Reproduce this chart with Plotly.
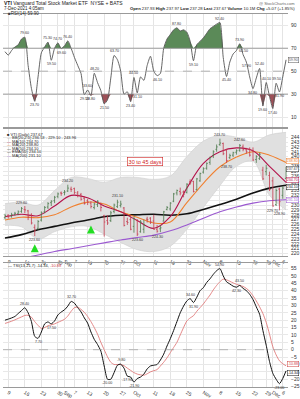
import plotly.graph_objects as go

# ---------------- data ----------------
idx = list(range(86))  # trading days 6-Aug-2021 .. 7-Dec-2021
tick_idx = [1, 6, 11, 16, 18, 21, 25, 30, 35, 39, 45, 50, 55, 60, 65, 70, 75, 79, 81, 84]
tick_txt = ["9", "16", "23", "30", "Sep", "7", "13", "20", "27", "Oct", "11", "18", "25", "Nov",
            "8", "15", "22", "29", "Dec", "6"]

rsi = [67, 64, 68, 71, 73, 78, 79.6, 55, 35, 23.7,
       45, 66, 71, 75.3, 59.5, 70, 74.7, 69.6, 72, 76.4,
       70, 62, 55, 48, 29.5, 33.6, 28.8, 48.2, 40, 33,
       21.5, 25, 44, 63.7, 60, 50, 30, 32, 23.4, 44.5,
       31.1, 45, 42, 55, 63, 50, 46.1, 48, 70, 78,
       82, 86, 87.8, 85, 86, 84, 76, 59.1, 73, 76,
       79, 83, 87, 89, 91, 92.4, 62, 45.4, 58, 65,
       68, 73.9, 64.5, 57.9, 45, 34.8, 44, 52.4, 19.6, 40.1,
       28, 17.4, 39.5, 31.9, 45, 59.9]

opn = [227.4, 227.9, 227.7, 228.1, 228.2, 228.7, 229.1, 228.8, 227.9, 225.4,
       225.2, 226.9, 228.6, 229.6, 230.5, 230.9, 231.8, 232.5, 232.6, 232.9,
       233.3, 233.4, 232.5, 232.2, 231.4, 230.9, 230.4, 229.5, 230.1, 230.3,
       227.8, 226.8, 226.8, 228.7, 229.7, 229.9, 229.4, 226.6, 227.0, 225.6,
       226.8, 224.5, 225.0, 227.1, 227.3, 226.7, 225.0, 225.1, 226.7, 229.1,
       229.2, 230.8, 232.5, 232.8, 232.7, 232.6, 234.8, 234.9, 233.2, 235.0,
       236.8, 237.6, 238.8, 240.2, 241.5, 242.5, 242.7, 241.4, 239.8, 240.3,
       240.9, 241.3, 242.0, 241.4, 241.5, 241.2, 239.4, 239.6, 237.2, 236.9,
       236.1, 235.0, 230.1, 233.3, 232.0, 235.5]
high = [228.2, 228.1, 228.4, 228.6, 228.9, 229.6, 229.8, 229.0, 228.3, 226.0,
        226.9, 228.7, 229.8, 230.6, 231.0, 231.9, 232.6, 232.8, 233.1, 234.2,
        233.8, 233.6, 232.9, 232.5, 231.8, 231.3, 230.8, 230.5, 231.0, 230.5,
        228.0, 227.9, 228.8, 230.3, 231.1, 230.9, 229.6, 227.4, 227.9, 227.6,
        227.1, 226.9, 227.0, 227.6, 227.5, 228.0, 225.9, 225.8, 228.8, 229.8,
        230.6, 232.5, 233.2, 233.6, 233.0, 234.5, 235.3, 235.0, 235.6, 236.7,
        237.8, 238.8, 240.0, 241.3, 242.5, 243.7, 242.9, 241.6, 240.6, 241.0,
        241.5, 242.6, 242.5, 241.8, 241.9, 241.9, 240.3, 240.8, 237.9, 238.3,
        236.9, 235.8, 233.4, 233.6, 233.9, 237.9]
low = [227.1, 227.2, 227.4, 227.8, 227.9, 228.4, 228.3, 226.9, 226.0, 223.6,
       224.9, 226.6, 228.3, 229.2, 229.8, 230.4, 231.4, 231.9, 232.0, 232.7,
       232.7, 232.2, 231.6, 230.9, 230.1, 230.0, 229.3, 229.1, 229.6, 228.7,
       223.5, 225.9, 226.5, 228.3, 229.4, 229.5, 225.6, 225.9, 224.8, 224.3,
       223.6, 224.3, 224.2, 226.4, 226.1, 224.9, 224.3, 224.4, 226.6, 228.9,
       228.8, 230.6, 232.0, 232.0, 231.6, 232.4, 234.2, 232.6, 233.0, 234.8,
       236.5, 237.3, 238.3, 239.7, 241.0, 242.2, 240.3, 238.7, 239.5, 239.9,
       240.4, 241.0, 241.1, 240.6, 240.0, 239.1, 238.7, 239.3, 235.2, 236.1,
       232.9, 229.7, 229.8, 228.9, 231.3, 235.3]
close = [227.8, 227.6, 228.0, 228.3, 228.6, 229.3, 229.0, 227.5, 226.3, 224.8,
         226.6, 228.4, 229.5, 230.3, 230.8, 231.6, 232.3, 232.4, 232.7, 233.5,
         233.2, 232.6, 232.0, 231.2, 230.3, 230.6, 229.7, 230.2, 230.8, 229.5,
         226.5, 226.3, 228.4, 230.0, 230.6, 230.2, 225.8, 226.4, 225.0, 227.2,
         224.0, 226.5, 225.9, 227.0, 226.5, 225.0, 224.6, 225.3, 228.6, 229.5,
         230.4, 232.3, 233.0, 232.5, 232.2, 234.3, 234.6, 232.8, 235.4, 236.5,
         237.5, 238.6, 239.8, 241.0, 242.0, 242.8, 240.6, 239.2, 240.2, 240.8,
         241.2, 242.3, 241.5, 241.0, 240.3, 239.3, 240.0, 240.5, 235.4, 237.6,
         233.2, 229.8, 233.0, 230.7, 233.5, 237.67]

ma_idx = [0, 5, 10, 15, 20, 25, 30, 35, 40, 45, 50, 55, 60, 65, 70, 75, 80, 85]
ma10 = [227.6, 228.1, 227.8, 229.8, 232.0, 231.5, 229.8, 228.6, 226.8, 225.2,
        227.6, 233.5, 238.6, 241.0, 241.8, 241.2, 238.0, 234.7]
ma20 = [226.9, 227.5, 227.4, 228.0, 229.6, 230.6, 230.2, 228.6, 227.5, 226.3,
        226.5, 230.5, 234.5, 237.9, 239.9, 241.0, 240.3, 238.8]
ma50 = [223.2, 223.9, 224.9, 225.6, 226.3, 226.9, 227.6, 227.9, 228.0, 228.1,
        227.9, 228.2, 229.1, 230.1, 231.2, 232.5, 233.5, 234.1]
ma200 = [218.3, 219.0, 219.7, 220.4, 221.0, 221.6, 222.2, 222.8, 223.3, 223.8,
         224.7, 225.9, 227.3, 228.6, 229.6, 230.4, 230.9, 231.1]
bb_up = [230.3, 230.6, 230.0, 233.0, 235.7, 235.5, 234.7, 235.7, 235.7, 235.3,
         236.0, 240.0, 243.2, 244.4, 244.0, 243.0, 244.5, 245.0]
bb_lo = [225.8, 225.5, 223.0, 224.5, 225.5, 225.6, 224.0, 222.3, 220.8, 220.4,
         221.5, 225.0, 229.5, 234.0, 238.0, 239.0, 232.0, 229.0]

arrow_idx = [9, 26]
arrow_px = [221.9, 225.8]

tsi = [20, 20.7, 21.5, 22.5, 24.5, 26.5, 28.4, 25, 19, 9,
       7.7, 12, 17.5, 18.8, 17.5, 19.5, 23.5, 25.5, 27, 29.5,
       32.7, 31.5, 28.5, 25.6, 21.5, 18, 12, 7, 3.5, -1,
       -11, -20, -20, -15.5, -10.5, -9.8, -12.5, -17.9, -18.5, -21.9,
       -19.5, -18.5, -16.5, -13, -11, -10.5, -10, -7, -3, 2.5,
       7.5, 13, 19, 25, 29.5, 33, 34.6, 31.9, 35.5, 40,
       42, 45.5, 48, 51, 53.5, 54.9, 50, 46, 44.5, 43,
       42.3, 43.5, 41.5, 40, 37.5, 34, 29, 24, 13, 3,
       -8, -16, -20, -23, -19.5, -14.34]
tsi_sig = [17.8, 18.5, 19.3, 20.2, 21.2, 22.2, 23.2, 23.3, 22, 19,
           16.5, 14.4, 15, 16.2, 16.8, 17.5, 18.5, 19.5, 20.6, 22.8,
           26, 28.5, 28.8, 27.3, 25.3, 22.5, 19, 15, 10.5, 5,
           0, -4.8, -8.5, -10, -10, -10, -10.8, -12.5, -14, -15.5,
           -16.5, -17, -17.3, -16.3, -15, -14.2, -13.5, -11, -8.5, -5.5,
           -2, 1.5, 5, 10, 15, 19.5, 21.5, 23, 26, 28.5,
           31, 34, 37, 40.5, 43.5, 46, 47.8, 47.3, 46.3, 45.2,
           44.3, 43.5, 42.8, 41.5, 39.5, 36.5, 33, 29, 24.5, 18.5,
           10.5, 2, -3.5, -7.5, -9.5, -10.88]

rsi_peaks = [6, 13, 16, 19, 25, 27, 33, 39, 52, 65, 71, 72, 77, 79, 82]
rsi_troughs = [9, 14, 17, 24, 26, 30, 38, 40, 46, 57, 67, 73, 75, 78, 81, 83]
tsi_peaks = [6, 20, 35, 56, 65, 71]
tsi_troughs = [10, 14, 31, 37, 39, 57, 70, 83]
px_peaks = [5, 19, 34, 65, 71]
px_troughs = [9, 40, 46, 67, 81, 83]

# ---------------- figure ----------------
FONT = "Liberation Sans"
W, H = 300, 399


def py(y):
    return 1 - y / H


X0, X1 = 3 / W, 289 / W
XR = [-0.6, 85.6]
D_RSI = [py(129), py(14)]
D_PX = [py(260), py(131)]
D_TSI = [py(393), py(267)]

fig = go.Figure()
nolink = dict(hoverinfo="skip", showlegend=False)

# RSI fills
fig.add_trace(go.Scatter(x=idx, y=[70] * len(idx), mode="lines", line=dict(width=0),
                         xaxis="x", yaxis="y", **nolink))
fig.add_trace(go.Scatter(x=idx, y=[max(v, 70) for v in rsi], mode="lines", line=dict(width=0),
                         fill="tonexty", fillcolor="#5b8a58", xaxis="x", yaxis="y", **nolink))
fig.add_trace(go.Scatter(x=idx, y=[30] * len(idx), mode="lines", line=dict(width=0),
                         xaxis="x", yaxis="y", **nolink))
fig.add_trace(go.Scatter(x=idx, y=[min(v, 30) for v in rsi], mode="lines", line=dict(width=0),
                         fill="tonexty", fillcolor="#9e5058", xaxis="x", yaxis="y", **nolink))
fig.add_trace(go.Scatter(x=idx, y=rsi, mode="lines", line=dict(color="#555555", width=0.9, shape="spline", smoothing=0.6),
                         xaxis="x", yaxis="y", **nolink))

# Bollinger band fill
fig.add_trace(go.Scatter(x=ma_idx, y=bb_up, mode="lines", line=dict(width=0.6, color="#cfcfcf", shape="spline"),
                         xaxis="x2", yaxis="y2", **nolink))
fig.add_trace(go.Scatter(x=ma_idx, y=bb_lo, mode="lines", line=dict(width=0.6, color="#cfcfcf", shape="spline"),
                         fill="tonexty", fillcolor="#e0e0e0", xaxis="x2", yaxis="y2", **nolink))
# moving averages
for arr, col, w in [(ma200, "#9b59d0", 1.1), (ma50, "#111111", 1.6), (ma20, "#f08030", 1.1), (ma10, "#b3124a", 1.1)]:
    fig.add_trace(go.Scatter(x=ma_idx, y=arr, mode="lines", line=dict(color=col, width=w, shape="spline"),
                             xaxis="x2", yaxis="y2", **nolink))

# price bars (high-low bar, open tick left, close tick right) built from the OHLC lists
for up, col in [(True, "#4d7a4d"), (False, "#c43a4e")]:
    bx, by = [], []
    for i in idx:
        if (close[i] >= opn[i]) != up:
            continue
        bx += [i, i, None, i - 0.35, i, None, i, i + 0.35, None]
        by += [low[i], high[i], None, opn[i], opn[i], None, close[i], close[i], None]
    fig.add_trace(go.Scatter(x=bx, y=by, mode="lines", line=dict(color=col, width=0.8),
                             xaxis="x2", yaxis="y2", **nolink))

fig.add_trace(go.Scatter(x=arrow_idx, y=arrow_px, mode="markers",
                         marker=dict(symbol="arrow-up", size=8, color="#22dd22", line=dict(width=0)),
                         xaxis="x2", yaxis="y2", **nolink))

# TSI
fig.add_trace(go.Scatter(x=idx, y=tsi_sig, mode="lines", line=dict(color="#e07a7a", width=0.9, shape="spline", smoothing=0.6),
                         xaxis="x3", yaxis="y3", **nolink))
fig.add_trace(go.Scatter(x=idx, y=tsi, mode="lines", line=dict(color="#111111", width=1.0, shape="spline", smoothing=0.6),
                         xaxis="x3", yaxis="y3", **nolink))

tickfont = dict(family=FONT, size=5, color="#333333")
xcommon = dict(type="linear", range=XR, domain=[X0, X1], tickvals=tick_idx, ticktext=tick_txt, showgrid=True,
               gridcolor="#e4e4e4", gridwidth=0.6, zeroline=False, showline=True, mirror=True,
               linecolor="#9a9a9a", linewidth=0.6, ticks="", tickfont=tickfont, ticklen=0)
ycommon = dict(type="linear", side="right", showgrid=True, gridcolor="#e8e8e8", gridwidth=0.6, zeroline=False,
               showline=False, ticks="", tickfont=tickfont, ticklabelstandoff=2)

fig.update_layout(
    width=W, height=H, margin=dict(l=0, r=0, t=0, b=0),
    paper_bgcolor="white", plot_bgcolor="white",
    font=dict(family=FONT, size=5, color="#333333"),
    showlegend=False,
    xaxis=dict(anchor="y", showticklabels=False, **xcommon),
    xaxis2=dict(anchor="y2", showticklabels=True, **xcommon),
    xaxis3=dict(anchor="y3", showticklabels=True, **xcommon),
    yaxis=dict(domain=D_RSI, range=[1.3, 100], tickvals=[10, 30, 50, 70, 90], anchor="x", **ycommon),
    yaxis2=dict(domain=D_PX, range=[219.47, 245.69], tickvals=list(range(220, 245)), anchor="x2", **ycommon),
    yaxis3=dict(domain=D_TSI, range=[-25.3, 58.7], tickvals=list(range(-25, 60, 5)), anchor="x3", **ycommon),
)

shapes = []
for lvl in (30, 70):
    shapes.append(dict(type="line", xref="x", yref="y", x0=XR[0], x1=XR[1], y0=lvl, y1=lvl,
                       line=dict(color="#8a8a8a", width=0.8)))
shapes.append(dict(type="line", xref="x", yref="y", x0=XR[0], x1=XR[1], y0=50, y1=50,
                   line=dict(color="#999999", width=0.7, dash="dash")))
shapes.append(dict(type="line", xref="x3", yref="y3", x0=XR[0], x1=XR[1], y0=0, y1=0,
                   line=dict(color="#999999", width=0.7, dash="dash")))
fig.update_layout(shapes=shapes)

ann = []


def txt(x, y, s, size=5, color="#222222", xanchor="left", **kw):
    ann.append(dict(xref="paper", yref="paper", x=x / W, y=py(y), text=s,
                    showarrow=False, xanchor=xanchor, yanchor="middle",
                    font=dict(family=FONT, size=size, color=color), **kw))


# header
txt(2, 3.5, "<b>VTI</b> Vanguard Total Stock Market ETF  NYSE + BATS", size=5)
txt(2, 8.5, "7-Dec-2021 4:05am", size=4.5)
txt(298, 3.5, "@ StockCharts.com", size=4, color="#666666", xanchor="right")
txt(298, 8.5, "<b>Open</b> 237.93 <b>High</b> 237.97 <b>Low</b> 237.28 <b>Last</b> 237.67 <b>Volume</b> 10.1M <b>Chg</b> +5.07 (+1.85%)",
    size=4.2, xanchor="right")
txt(6, 13.5, "<span style='color:#444'>■</span>RSI(14) 59.90", size=4.5)

# price legend
leg = [("■", "#333333", "VTI (Daily) 237.67", 136.5),
       ("—", "#aaaaaa", "BB(20,2.0) 236.53 - 229.10 - 243.96", 140.0),
       ("—", "#b3124a", "MA(10) 234.70", 143.5),
       ("—", "#f08030", "MA(20) 238.80", 147.0),
       ("—", "#111111", "MA(50) 234.10", 150.5),
       ("—", "#111111", "EMA(50) 234.10", 154.0),
       ("—", "#9b59d0", "MA(200) 231.10", 157.5)]
for sym, col, s, y in leg:
    txt(5, y, "<span style='color:%s'>%s</span> %s" % (col, sym, s), size=4)

txt(6, 270, "<span style='color:#111'>—</span> TSI(13,21,7) -14.34, <span style='color:#d04040'>-10.88</span>", size=4)

# "30 to 45 days" note
ann.append(dict(xref="paper", yref="paper", x=145 / W, y=py(164), text="30 to 45 days", showarrow=False,
                xanchor="center", yanchor="middle", font=dict(family=FONT, size=5.5, color="#d02020"),
                bordercolor="#d02020", borderwidth=0.6, borderpad=1, bgcolor="white"))

# peak / trough value labels
lab = dict(family=FONT, size=3.6, color="#333333")
for i in rsi_peaks:
    ann.append(dict(x=i, y=rsi[i], xref="x", yref="y", text="%.2f" % rsi[i], showarrow=False,
                    yshift=4, font=lab))
for i in rsi_troughs:
    ann.append(dict(x=i, y=rsi[i], xref="x", yref="y", text="%.2f" % rsi[i], showarrow=False,
                    yshift=-4, font=lab))
for i in tsi_peaks:
    ann.append(dict(x=i, y=tsi[i], xref="x3", yref="y3", text="%.2f" % tsi[i], showarrow=False,
                    yshift=4, font=lab))
for i in tsi_troughs:
    ann.append(dict(x=i, y=tsi[i], xref="x3", yref="y3", text="%.2f" % tsi[i], showarrow=False,
                    yshift=-4, font=lab))
for i in px_peaks:
    ann.append(dict(x=i, y=high[i], xref="x2", yref="y2", text="%.2f" % high[i], showarrow=False,
                    yshift=4, font=lab))
for i in px_troughs:
    ann.append(dict(x=i, y=low[i], xref="x2", yref="y2", text="%.2f" % low[i], showarrow=False,
                    yshift=-4, font=lab))

# right-axis value boxes
boxes = [("y", rsi[-1], "#555555", 0), ("y2", ma20[-1], "#f08030", 1), ("y2", close[-1], "#333333", -1),
         ("y2", ma10[-1], "#b3124a", 2), ("y2", ma50[-1], "#111111", -2), ("y2", ma200[-1], "#9b59d0", 0),
         ("y3", tsi_sig[-1], "#d04040", 2), ("y3", tsi[-1], "#111111", -2)]
for yr, v, col, sh in boxes:
    ann.append(dict(xref="paper", yref=yr, x=299.5 / W, y=v, text="%.2f" % v, showarrow=False,
                    xanchor="right", yanchor="middle", yshift=sh, font=dict(family=FONT, size=3.6, color=col),
                    bgcolor="white", bordercolor=col, borderwidth=0.5, borderpad=0.3))

fig.update_layout(annotations=ann)
fig.write_html("out.html")
